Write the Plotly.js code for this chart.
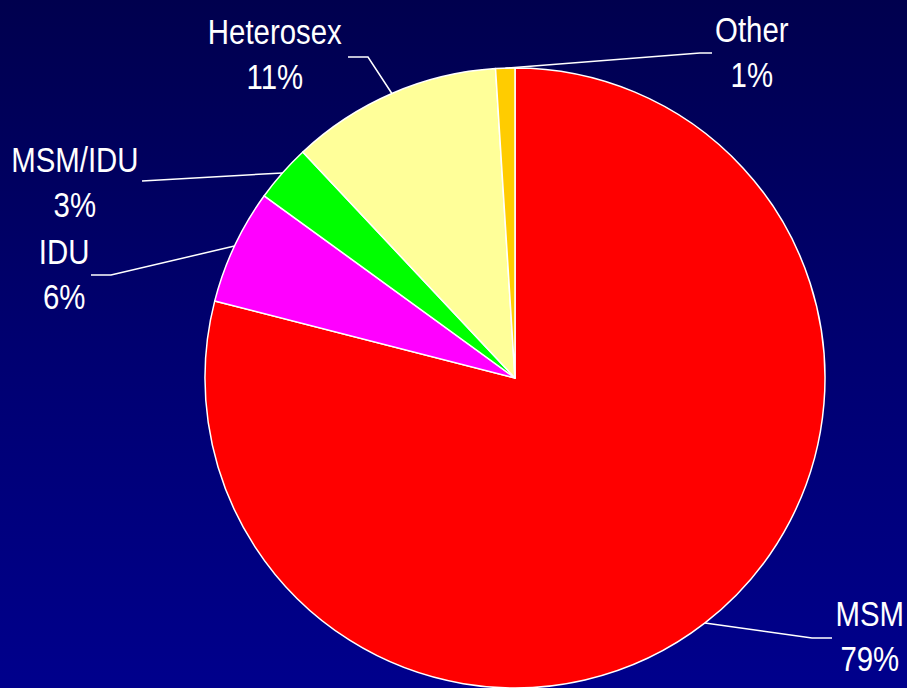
<!DOCTYPE html>
<html>
<head>
<meta charset="utf-8">
<script src="https://cdn.plot.ly/plotly-3.0.1.min.js"></script>
<style>
  html, body { margin: 0; padding: 0; width: 907px; height: 688px; overflow: hidden;
    background: linear-gradient(to bottom, #00004e 0%, #000070 50%, #00008c 100%); }
  #chart { width: 907px; height: 688px; }
</style>
</head>
<body>
<div id="chart"></div>
<script>
// ---- data ----
const categories = ["MSM", "IDU", "MSM/IDU", "Heterosex", "Other"];
const values = [79, 6, 3, 11, 1];
const percentLabels = ["79%", "6%", "3%", "11%", "1%"];
const colors = ["#FF0000", "#FF00FF", "#00FF00", "#FFFF99", "#FFCC00"];

// ---- layout geometry (pixels) ----
const W = 907, H = 688;
const cx = 515, cy = 378, R = 310;
// label block centre and leader elbow / end, per category
const labelPos = {
  "MSM":       { tx: 870, ty: 636, elbow: [812, 638], end: [832, 638] },
  "IDU":       { tx: 64,  ty: 274, elbow: [111, 275], end: [91, 275] },
  "MSM/IDU":   { tx: 75,  ty: 182, elbow: [142, 181], end: [142, 181] },
  "Heterosex": { tx: 275, ty: 54,  elbow: [368, 57],  end: [348, 57] },
  "Other":     { tx: 752, ty: 52,  elbow: [700, 53],  end: [712, 53] }
};

const px = x => x / W;
const py = y => 1 - y / H;

const total = values.reduce((a, b) => a + b, 0);
let cum = 0;
const shapes = [];
const annotations = [];
categories.forEach((c, i) => {
  const mid = (cum + values[i] / 2) / total * 2 * Math.PI; // clockwise from top
  cum += values[i];
  const sx = cx + R * Math.sin(mid);
  const sy = cy - R * Math.cos(mid);
  const p = labelPos[c];
  shapes.push({
    type: "path", xref: "paper", yref: "paper",
    path: `M ${px(sx)} ${py(sy)} L ${px(p.elbow[0])} ${py(p.elbow[1])} L ${px(p.end[0])} ${py(p.end[1])}`,
    line: { color: "#ffffff", width: 1.5 }
  });
  annotations.push({
    xref: "paper", yref: "paper", x: px(p.tx), y: py(p.ty),
    xanchor: "center", yanchor: "middle", showarrow: false,
    text: c + "<br>" + percentLabels[i],
    font: { family: "'Liberation Sans Narrow', 'Arial Narrow', 'Liberation Sans', Arial, sans-serif", size: 35, color: "#ffffff" }
  });
});

const data = [{
  type: "pie",
  labels: categories,
  values: values,
  sort: false,
  direction: "clockwise",
  rotation: 0,
  textinfo: "none",
  hoverinfo: "label+percent",
  marker: { colors: colors, line: { color: "#ffffff", width: 1.5 } },
  domain: { x: [(cx - R) / W, (cx + R) / W], y: [0, (2 * R) / H] },
  showlegend: false
}];

const layout = {
  width: W, height: H,
  margin: { l: 0, r: 0, t: 0, b: 0 },
  paper_bgcolor: "rgba(0,0,0,0)",
  plot_bgcolor: "rgba(0,0,0,0)",
  showlegend: false,
  shapes: shapes,
  annotations: annotations
};

Plotly.newPlot("chart", data, layout, { displayModeBar: false, staticPlot: true }).then(gd => {
  // condense label text horizontally (narrow face is not installed)
  gd.querySelectorAll("text.annotation-text").forEach(t => {
    const bb = t.getBBox();
    const mx = bb.x + bb.width / 2;
    const prev = t.getAttribute("transform") || "";
    t.setAttribute("transform", `${prev} translate(${mx},0) scale(0.84,1) translate(${-mx},0)`);
  });
});
</script>
</body>
</html>
